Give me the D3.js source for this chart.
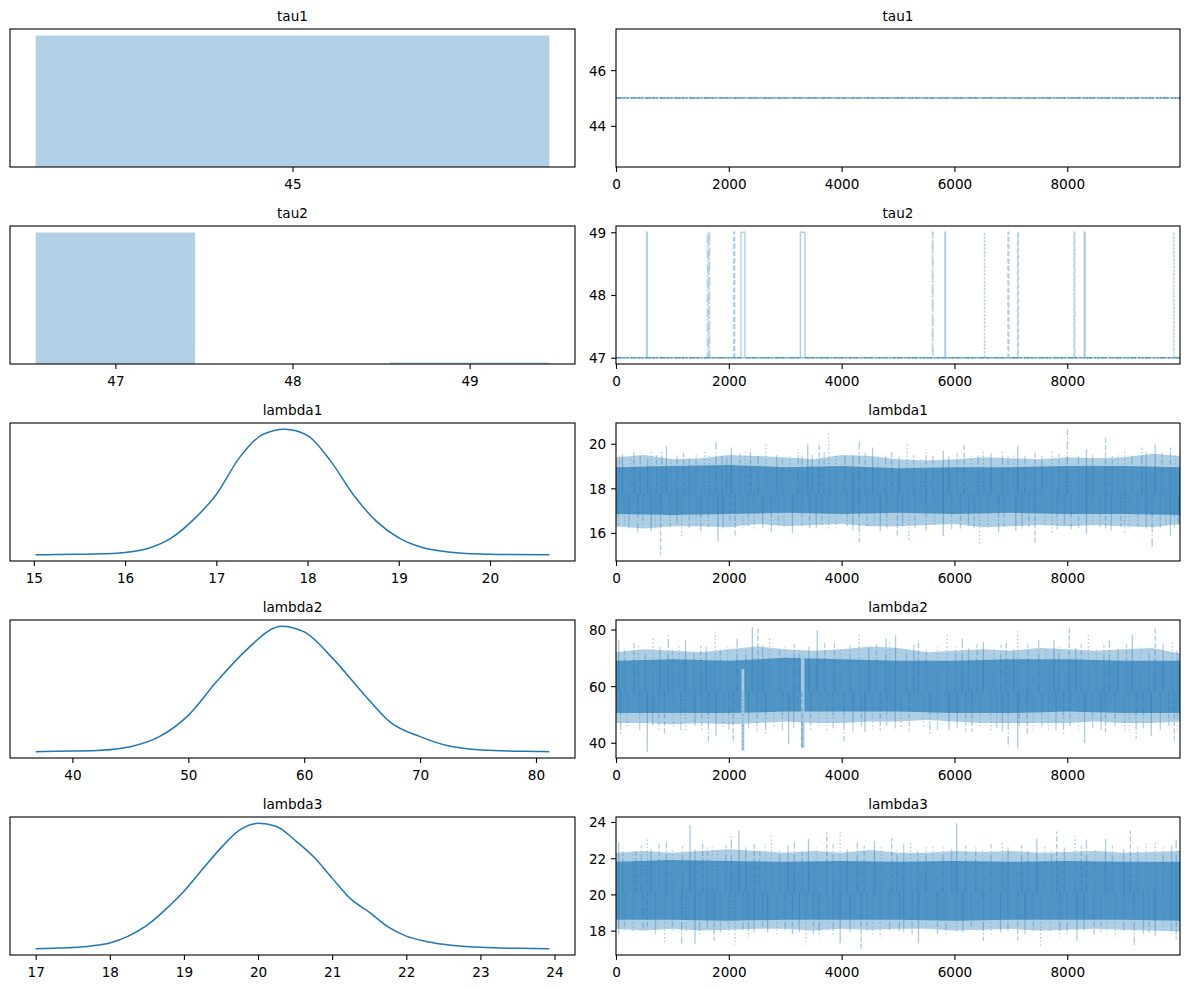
<!DOCTYPE html>
<html><head><meta charset="utf-8">
<script src="https://cdn.jsdelivr.net/npm/d3@7/dist/d3.min.js"></script>
<style>body{margin:0;background:#fff} text{font-family:"DejaVu Sans",sans-serif;fill:#000}</style>
</head><body><svg id="c" width="1189" height="989"></svg>
<script>
// ---------------- DATA ----------------
const varNames = ["tau1", "tau2", "lambda1", "lambda2", "lambda3"];
const iterTicks = [0, 2000, 4000, 6000, 8000];
const lastIter = 9999;

// tau1 (discrete)
const tau1Values = [45];
const tau1Counts = [40000];
const tau1LeftTicks = [45];
const tau1RightTicks = [44, 46];
const tau1Chains = [[], [], [], []];           // no jumps: every chain stays at 45
const tau1Base = 45;

// tau2 (discrete)
const tau2Values = [47, 48, 49];
const tau2Counts = [39700, 0, 300];
const tau2LeftTicks = [47, 48, 49];
const tau2RightTicks = [47, 48, 49];
const tau2Base = 47, tau2High = 49;
// intervals [start, end] where a chain sits at 49
const tau2Chains = [
  [[540, 556], [2215, 2285], [3270, 3350], [5830, 5842], [8300, 8318]],   // solid
  [[2085, 2105], [6950, 6964], [7120, 7134], [8120, 8134]],               // dashed
  [[6530, 6540], [9885, 9896]],                                            // dotted
  [[1620, 1632], [1645, 1660], [5610, 5620]]                               // dash-dot
];

// readings of trace bands
const bandIters = [0,500,1000,1500,2000,2500,3000,3500,4000,4500,5000,5500,6000,6500,7000,7500,8000,8500,9000,9500,9999];
const coreIters = [0,1000,2000,3000,4000,5000,6000,7000,8000,9000,9999];

// lambda1
const lam1KdeX = [15.02,15.25,15.5,15.75,16.0,16.25,16.5,16.75,17.0,17.25,17.5,17.75,18.0,18.25,18.5,18.75,19.0,19.25,19.5,19.75,20.0,20.25,20.65];
const lam1KdeY = [0,0.001,0.003,0.007,0.018,0.05,0.13,0.28,0.48,0.77,0.955,1.0,0.95,0.75,0.48,0.27,0.135,0.06,0.025,0.01,0.004,0.001,0];
const lam1LeftTicks = [15,16,17,18,19,20];
const lam1RightTicks = [16,18,20];
const lam1Mean = 17.75;
const lam1FringeHi = [19.4,19.5,19.3,19.35,19.5,19.45,19.4,19.3,19.5,19.45,19.3,19.25,19.3,19.4,19.35,19.3,19.4,19.35,19.4,19.55,19.45];
const lam1FringeLo = [16.3,16.2,16.3,16.3,16.25,16.4,16.3,16.35,16.4,16.3,16.3,16.35,16.4,16.25,16.3,16.35,16.3,16.35,16.3,16.25,16.4];
const lam1CoreHi = [18.95,19.0,19.05,18.95,19.0,18.9,18.95,18.95,19.0,19.0,18.95];
const lam1CoreLo = [16.85,16.8,16.85,16.9,16.85,16.9,16.85,16.9,16.85,16.85,16.8];
const lam1Spikes = [
  [115,19.53],[318,19.68],[623,19.75],[812,19.63],[894,19.9],[1198,19.6],[1570,19.75],[1774,20.08],
  [2045,19.83],[2383,19.75],[2654,19.98],[3229,19.75],[3399,19.98],[3602,20.05],[3771,20.58],[4312,20.13],
  [4549,19.83],[4888,19.68],[5159,20.05],[5497,19.75],[5802,19.68],[6174,20.05],[6513,19.75],[6851,19.68],
  [7122,19.9],[7427,19.6],[7731,19.68],[8002,20.65],[8341,19.75],[8679,20.28],[9018,19.75],[9322,19.83],
  [9559,19.98],[9830,19.83],
  [149,16.31],[386,15.93],[623,16.08],[790,15.02],[1164,15.78],[1503,16.08],[1808,15.63],[2112,15.86],
  [2451,16.08],[2755,15.93],[3128,16.0],[3432,16.16],[3771,16.08],[4312,15.56],[4685,16.08],[4989,15.86],
  [5193,15.63],[5497,16.08],[5802,15.86],[6107,16.08],[6445,15.44],[6783,16.0],[7088,16.08],[7427,15.56],
  [7731,16.0],[8070,16.16],[8341,15.93],[8679,16.08],[9018,15.93],[9505,15.33],[9830,15.86]
];
const lam1Minor = [
  [60,19.45],[260,19.3],[430,19.6],[560,19.35],[720,19.5],[980,19.4],[1080,19.55],[1300,19.35],[1420,19.5],[1650,19.45],
  [1880,19.6],[1960,19.4],[2200,19.55],[2290,19.7],[2520,19.45],[2850,19.5],[2950,19.35],[3080,19.45],[3300,19.6],[3480,19.5],
  [3690,19.7],[3900,19.45],[4060,19.6],[4200,19.5],[4420,19.7],[4650,19.45],[4780,19.55],[5020,19.4],[5280,19.5],[5400,19.35],
  [5620,19.55],[5900,19.45],[6050,19.6],[6300,19.45],[6420,19.5],[6650,19.6],[6950,19.45],[7050,19.6],[7250,19.5],[7550,19.45],
  [7850,19.55],[7980,19.4],[8200,19.55],[8450,19.5],[8800,19.45],[8900,19.6],[9150,19.55],[9400,19.65],[9680,19.6],[9920,19.5],
  [40,16.3],[230,16.2],[480,16.35],[700,16.1],[960,16.25],[1080,16.4],[1300,16.15],[1420,16.3],[1640,16.25],[1900,16.2],
  [2020,16.4],[2250,16.1],[2350,16.3],[2600,16.2],[2880,16.35],[2980,16.15],[3300,16.3],[3550,16.2],[3650,16.35],[3900,16.2],
  [4100,16.3],[4200,16.1],[4450,16.3],[4580,16.25],[4800,16.2],[5080,16.3],[5300,16.2],[5650,16.3],[5950,16.15],[6250,16.3],
  [6350,16.2],[6600,16.1],[6880,16.3],[7200,16.2],[7320,16.25],[7600,16.3],[7820,16.15],[7950,16.35],[8200,16.2],[8450,16.3],
  [8580,16.25],[8780,16.1],[8950,16.25],[9100,16.15],[9250,16.3],[9400,16.2],[9650,16.1],[9750,16.25],[9900,16.2],[9970,16.35]
];

// lambda2
const lam2KdeX = [36.83,37.5,40,42.5,45,47.5,50,52.5,55,57.5,58,60,62.5,65,67.5,70,72.5,75,77.5,80,81.15];
const lam2KdeY = [0,0.001,0.005,0.012,0.04,0.12,0.29,0.565,0.81,0.99,1.0,0.955,0.74,0.475,0.23,0.12,0.045,0.015,0.006,0.002,0];
const lam2LeftTicks = [40,50,60,70,80];
const lam2RightTicks = [40,60,80];
const lam2Mean = 58;
const lam2FringeHi = [72,73,72.5,72,73,74,73,72.5,73,74,73.5,72,72.5,73,72.5,73.5,73,72.5,73,73.5,71.5];
const lam2FringeLo = [47,47,46.5,47,46.5,47,47.5,47,47,47.5,47.5,48,47.5,47,47,47,47,47.5,47,47,47.5];
const lam2CoreHi = [69,69.5,69,70,69.5,69,69,69.5,69.5,69,69];
const lam2CoreLo = [50.5,50.5,50.5,51,51,51,50.5,50.5,51,50.5,50.5];
const lam2Spikes = [
  [47,76.2],[318,75.6],[657,76.8],[927,78.9],[1232,76.2],[1503,74.4],[1760,79.2],[2146,77.4],
  [2417,80.9],[2518,80.4],[2722,77.4],[3162,75.0],[3568,79.8],[3873,76.2],[4312,78.2],[4786,77.0],
  [4956,78.0],[5362,76.2],[5870,78.6],[6140,76.8],[6513,75.6],[6919,76.2],[7122,79.8],[7494,76.2],
  [7765,76.2],[8036,81.15],[8374,78.6],[8747,76.2],[9153,78.0],[9559,80.6],[9864,76.2],
  [81,42.5],[555,36.83],[860,42.5],[1232,44.3],[1638,40.7],[1774,42.5],[2078,39.9],[2248,37.2],
  [2654,42.5],[3060,39.5],[3297,38.3],[3737,44.3],[4042,40.7],[4414,43.7],[4685,44.3],[5057,44.9],
  [5565,43.1],[5903,44.3],[6310,43.7],[6648,44.3],[6953,38.3],[7122,38.0],[7291,42.5],[7664,44.3],
  [7934,42.5],[8307,39.9],[8679,43.7],[9018,44.3],[9221,41.3],[9491,42.5],[9898,40.1]
];
const lam2Minor = [
  [150,73],[400,74.5],[520,72],[780,74],[1000,73],[1120,75],[1380,72.5],[1600,74],[1850,73.5],[1980,75],
  [2300,73],[2600,74.5],[2900,73],[3000,75],[3250,72.5],[3420,74],[3700,75.5],[3980,73],[4150,74.5],[4480,73.5],
  [4620,75],[4850,76],[5150,73],[5280,74.5],[5500,73],[5700,75],[6020,74],[6250,73.5],[6400,75],[6700,73],
  [6820,74.5],[7050,73],[7300,75],[7620,73],[7850,74],[8150,73.5],[8250,75],[8520,73],[8650,74.5],[8900,73],
  [9050,75],[9300,74],[9450,73],[9700,75],[9950,73.5],
  [200,45],[420,44],[650,46],[760,44.5],[1020,45.5],[1150,44],[1400,46],[1520,44.5],[1900,45],[2000,43.5],
  [2350,45],[2500,44],[2800,45.5],[2950,44],[3150,45],[3450,44.5],[3600,46],[3850,45],[4200,44],[4350,45.5],
  [4550,44.5],[4800,46],[4950,45],[5200,44],[5450,45.5],[5700,44.5],[6050,45],[6200,44],[6450,45.5],[6750,45],
  [6850,44],[7150,45.5],[7400,44],[7550,45.5],[7800,44.5],[8050,45],[8200,43.5],[8450,45],[8600,44.5],[8850,45.5],
  [9100,44],[9350,45],[9650,44.5],[9800,45],[9950,44]
];
// periods where one chain wandered low (tau2 = 49): [start, end, lo, hi]
const lam2Excursions = [[2225, 2275, 37.2, 66], [3280, 3340, 38.3, 72]];

// lambda3
const lam3KdeX = [17.0,17.25,17.5,17.75,18.0,18.25,18.5,18.75,19.0,19.25,19.5,19.75,20.0,20.25,20.5,20.75,21.0,21.25,21.5,21.75,22.0,22.25,22.5,22.75,23.0,23.5,23.93];
const lam3KdeY = [0,0.004,0.01,0.022,0.045,0.1,0.185,0.31,0.455,0.63,0.8,0.94,0.995,0.97,0.86,0.73,0.56,0.395,0.29,0.175,0.1,0.06,0.035,0.02,0.011,0.003,0];
const lam3LeftTicks = [17,18,19,20,21,22,23,24];
const lam3RightTicks = [18,20,22,24];
const lam3Mean = 20.1;
const lam3FringeHi = [22.3,22.4,22.3,22.4,22.5,22.4,22.3,22.4,22.3,22.45,22.3,22.3,22.4,22.35,22.4,22.3,22.35,22.4,22.3,22.35,22.4];
const lam3FringeLo = [18.1,18.0,18.1,18.0,18.05,18.1,18.1,18.0,18.1,18.05,18.1,18.1,18.0,18.05,18.1,18.0,18.05,18.1,18.05,18.0,17.95];
const lam3CoreHi = [21.8,21.9,21.85,21.8,21.85,21.8,21.85,21.8,21.85,21.8,21.8];
const lam3CoreLo = [18.6,18.6,18.55,18.6,18.6,18.6,18.55,18.6,18.6,18.6,18.55];
const lam3Spikes = [
  [47,22.88],[352,22.5],[555,23.15],[894,22.88],[1313,23.84],[1537,22.97],[1706,22.6],[2045,23.34],
  [2180,23.52],[2451,22.88],[2755,23.25],[3162,22.88],[3412,23.06],[3737,23.43],[3974,23.52],[4279,22.88],
  [4583,22.97],[4888,23.1],[5226,22.88],[5497,22.6],[6039,23.93],[6378,22.6],[6851,22.88],[7190,22.7],
  [7461,23.06],[7812,23.47],[8137,23.25],[8341,23.1],[8679,23.06],[9119,23.52],[9559,22.97],[9932,23.1],
  [47,17.8],[555,18.08],[860,17.34],[1164,17.25],[1401,17.25],[1740,17.44],[2112,17.2],[2349,17.62],
  [2688,17.9],[3128,17.71],[3365,17.2],[3602,17.62],[3974,17.3],[4346,17.0],[4685,17.62],[5023,17.9],
  [5362,17.3],[5700,17.71],[6039,17.9],[6513,17.44],[6817,17.9],[7122,17.44],[7528,17.07],[7867,17.62],
  [8171,17.44],[8476,17.71],[8849,17.62],[9187,17.2],[9559,17.71],[9932,17.53]
];
const lam3Minor = [
  [120,22.6],[300,22.4],[450,22.7],[620,22.5],[760,22.8],[1000,22.5],[1180,22.7],[1400,22.5],[1620,22.6],[1800,22.4],
  [1950,22.7],[2300,22.6],[2550,22.5],[2650,22.8],[2900,22.5],[3050,22.7],[3300,22.5],[3550,22.6],[3850,22.8],[4100,22.5],
  [4400,22.7],[4700,22.6],[4980,22.5],[5100,22.8],[5350,22.5],[5620,22.7],[5800,22.6],[5950,22.5],[6200,22.7],[6500,22.5],
  [6650,22.8],[6950,22.6],[7300,22.5],[7600,22.7],[7720,22.5],[7950,22.6],[8250,22.7],[8500,22.5],[8800,22.7],[9000,22.5],
  [9250,22.6],[9400,22.8],[9700,22.6],[9850,22.7],
  [150,18.0],[300,17.9],[480,18.1],[700,17.8],[1000,18.0],[1250,17.9],[1480,17.8],[1620,18.1],[1850,17.9],[2000,17.8],
  [2250,18.0],[2450,17.9],[2600,18.1],[2850,17.8],[3000,18.0],[3250,17.9],[3500,17.8],[3750,18.0],[3850,17.7],[4150,17.9],
  [4450,18.0],[4550,17.8],[4850,18.0],[5100,17.9],[5250,17.7],[5500,18.0],[5850,17.8],[6150,17.9],[6300,18.1],[6650,17.8],
  [6950,17.9],[7250,17.8],[7400,18.0],[7700,17.9],[8000,17.8],[8300,18.0],[8600,17.9],[8700,17.8],[9000,18.0],[9350,17.8],
  [9450,17.9],[9700,18.0],[9850,17.8]
];

// ---------------- DRAWING ----------------
const C0 = "#1f77b4";
const dashes = [null, "5.1 2.2", "1.4 2.3", "8.9 2.2 1.4 2.2"];
const svg = d3.select("#c");
const L = {lx0: 10, lx1: 575, rx0: 616, rx1: 1180, top0: 29, rowStep: 197, h: 138};
const FS = 13.6;

function pad(lo, hi) {
  if (hi - lo < 1e-9) { const e = Math.abs(lo) * 0.05 || 1; lo -= e; hi += e; }
  const m = (hi - lo) * 0.05; return [lo - m, hi + m];
}

let clipId = 0;
function panel(row, col, title) {
  const x0 = col === 0 ? L.lx0 : L.rx0, x1 = col === 0 ? L.lx1 : L.rx1;
  const y0 = L.top0 + row * L.rowStep, y1 = y0 + L.h;
  const g = svg.append("g");
  const id = "clip" + (clipId++);
  svg.append("clipPath").attr("id", id).append("rect")
    .attr("x", x0).attr("y", y0).attr("width", x1 - x0).attr("height", y1 - y0);
  const plot = g.append("g").attr("clip-path", `url(#${id})`);
  g.append("text").attr("x", (x0 + x1) / 2).attr("y", y0 - 8.3)
    .attr("text-anchor", "middle").style("font-size", FS + "px").text(title);
  return {g, plot, x0, x1, y0, y1};
}
function frame(p) {
  p.g.append("rect").attr("x", p.x0).attr("y", p.y0).attr("width", p.x1 - p.x0).attr("height", p.y1 - p.y0)
    .attr("fill", "none").attr("stroke", "#000").attr("stroke-width", 1.1);
}
function xAxis(p, x, ticks) {
  const ax = p.g.append("g").attr("transform", `translate(0,${p.y1})`)
    .call(d3.axisBottom(x).tickValues(ticks).tickSizeOuter(0).tickSizeInner(4.9).tickFormat(d3.format("d")));
  ax.select(".domain").remove();
  ax.selectAll(".tick line").attr("stroke", "#000").attr("stroke-width", 1.1);
  ax.selectAll(".tick text").attr("y", 22.3).attr("dy", null).style("font-size", FS + "px")
    .style("font-family", '"DejaVu Sans",sans-serif').attr("fill", "#000");
}
function yAxis(p, y, ticks) {
  const ax = p.g.append("g").attr("transform", `translate(${p.x0},0)`)
    .call(d3.axisLeft(y).tickValues(ticks).tickSizeOuter(0).tickSizeInner(4.9).tickPadding(4.9).tickFormat(d3.format("d")));
  ax.select(".domain").remove();
  ax.selectAll(".tick line").attr("stroke", "#000").attr("stroke-width", 1.1);
  ax.selectAll(".tick text").attr("dy", "0.36em").style("font-size", FS + "px")
    .style("font-family", '"DejaVu Sans",sans-serif').attr("fill", "#000");
}

function histPanel(row, title, values, counts, ticks) {
  const p = panel(row, 0, title);
  const half = 0.45;
  const x = d3.scaleLinear().domain(pad(d3.min(values) - half, d3.max(values) + half)).range([p.x0, p.x1]);
  const y = d3.scaleLinear().domain([0, d3.max(counts) * 1.05]).range([p.y1, p.y0]);
  p.plot.selectAll("rect.bar").data(values.map((v, i) => ({v, c: counts[i]})).filter(d => d.c > 0))
    .join("rect").attr("x", d => x(d.v - half)).attr("width", d => x(d.v + half) - x(d.v - half))
    .attr("y", d => Math.min(y(d.c), y(0) - 1.5)).attr("height", d => Math.max(1.5, y(0) - y(d.c)))
    .attr("fill", C0).attr("fill-opacity", 0.35);
  frame(p); xAxis(p, x, ticks);
}
function stepTracePanel(row, title, base, high, chains, ticks, domainVals) {
  const p = panel(row, 1, title);
  const x = d3.scaleLinear().domain([0, lastIter]).range([p.x0, p.x1]);
  const y = d3.scaleLinear().domain(pad(d3.min(domainVals), d3.max(domainVals))).range([p.y1, p.y0]);
  const line = d3.line().x(d => x(d[0])).y(d => y(d[1])).curve(d3.curveStepAfter);
  chains.forEach((iv, ci) => {
    const pts = [[0, base]];
    iv.forEach(([s, e]) => { pts.push([s, high]); pts.push([e, base]); });
    pts.push([lastIter, base]);
    p.plot.append("path").attr("d", line(pts)).attr("fill", "none").attr("stroke", C0)
      .attr("stroke-opacity", 0.35).attr("stroke-width", 1.4).attr("stroke-dasharray", dashes[ci]);
  });
  frame(p); xAxis(p, x, iterTicks); yAxis(p, y, ticks);
}
function kdePanel(row, title, kx, ky, ticks) {
  const p = panel(row, 0, title);
  const x = d3.scaleLinear().domain(pad(d3.min(kx), d3.max(kx))).range([p.x0, p.x1]);
  const y = d3.scaleLinear().domain(pad(0, d3.max(ky))).range([p.y1, p.y0]);
  const line = d3.line().x((d, i) => x(kx[i])).y(d => y(d)).curve(d3.curveMonotoneX);
  p.plot.append("path").attr("d", line(ky)).attr("fill", "none").attr("stroke", C0).attr("stroke-width", 1.5);
  frame(p); xAxis(p, x, ticks);
}
function tracePanel(row, title, kx, mean, fHi, fLo, cHi, cLo, spikes, minor, ticks, excursions) {
  const p = panel(row, 1, title);
  const x = d3.scaleLinear().domain([0, lastIter]).range([p.x0, p.x1]);
  const y = d3.scaleLinear().domain(pad(d3.min(kx), d3.max(kx))).range([p.y1, p.y0]);
  const fr = d3.area().x((d, i) => x(bandIters[i])).y0((d, i) => y(fLo[i])).y1(d => y(d));
  p.plot.append("path").attr("d", fr(fHi)).attr("fill", C0).attr("fill-opacity", 0.36);
  // minor hairs
  p.plot.selectAll("line.mn").data(minor).join("line")
    .attr("x1", d => x(d[0])).attr("x2", d => x(d[0]))
    .attr("y1", y(mean)).attr("y2", d => y(d[1]))
    .attr("stroke", C0).attr("stroke-opacity", 0.3).attr("stroke-width", 1.4)
    .attr("stroke-dasharray", (d, i) => dashes[(i + 1) % 4]);
  const cr = d3.area().x((d, i) => x(coreIters[i])).y0((d, i) => y(cLo[i])).y1(d => y(d));
  p.plot.append("path").attr("d", cr(cHi)).attr("fill", C0).attr("fill-opacity", 0.66);
  if (excursions) {
    p.plot.selectAll("rect.exc").data(excursions).join("rect")
      .attr("x", d => x(d[0])).attr("width", d => x(d[1]) - x(d[0]))
      .attr("y", d => y(d[3])).attr("height", d => y(d[2]) - y(d[3]))
      .attr("fill", "#a6c8e3");
  }
  p.plot.selectAll("line.sp").data(spikes).join("line")
    .attr("x1", d => x(d[0])).attr("x2", d => x(d[0]))
    .attr("y1", y(mean)).attr("y2", d => y(d[1]))
    .attr("stroke", C0).attr("stroke-opacity", 0.38).attr("stroke-width", 1.3)
    .attr("stroke-dasharray", (d, i) => dashes[i % 4]);
  frame(p); xAxis(p, x, iterTicks); yAxis(p, y, ticks);
}

histPanel(0, varNames[0], tau1Values, tau1Counts, tau1LeftTicks);
stepTracePanel(0, varNames[0], tau1Base, tau1Base, tau1Chains, tau1RightTicks, [tau1Base]);
histPanel(1, varNames[1], tau2Values, tau2Counts, tau2LeftTicks);
stepTracePanel(1, varNames[1], tau2Base, tau2High, tau2Chains, tau2RightTicks, [tau2Base, tau2High]);
kdePanel(2, varNames[2], lam1KdeX, lam1KdeY, lam1LeftTicks);
tracePanel(2, varNames[2], lam1KdeX, lam1Mean, lam1FringeHi, lam1FringeLo, lam1CoreHi, lam1CoreLo, lam1Spikes, lam1Minor, lam1RightTicks);
kdePanel(3, varNames[3], lam2KdeX, lam2KdeY, lam2LeftTicks);
tracePanel(3, varNames[3], lam2KdeX, lam2Mean, lam2FringeHi, lam2FringeLo, lam2CoreHi, lam2CoreLo, lam2Spikes, lam2Minor, lam2RightTicks, lam2Excursions);
kdePanel(4, varNames[4], lam3KdeX, lam3KdeY, lam3LeftTicks);
tracePanel(4, varNames[4], lam3KdeX, lam3Mean, lam3FringeHi, lam3FringeLo, lam3CoreHi, lam3CoreLo, lam3Spikes, lam3Minor, lam3RightTicks);
</script></body></html>
